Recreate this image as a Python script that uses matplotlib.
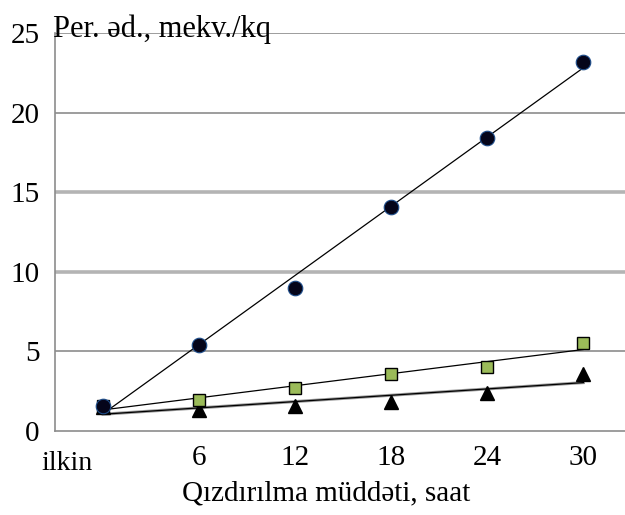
import numpy as np
import matplotlib
matplotlib.use("Agg")
import matplotlib.pyplot as plt

plt.rcParams['font.family'] = ['Liberation Serif', 'DejaVu Serif']

# Heating time (hours); 0 corresponds to the initial sample ("ilkin")
hours = [0, 6, 12, 18, 24, 30]
tick_labels = ["ilkin", "6", "12", "18", "24", "30"]

# Peroxide value, meq/kg
series_circle = [1.6, 5.4, 9.0, 14.1, 18.4, 23.2]
series_square = [1.6, 1.95, 2.7, 3.6, 4.0, 5.5]
series_triangle = [1.5, 1.35, 1.6, 1.85, 2.4, 3.6]

fig = plt.figure(figsize=(6.25, 5.15), dpi=100)
ax = fig.add_axes([0.088, 0.163, 0.912, 0.773])

ax.set_xlim(-3.0, 32.6)
ax.set_ylim(0, 25)

# horizontal grid: thin dark lines and thick light bands
for yv in [5, 20, 25]:
    ax.axhline(yv, color="#8c8c8c", lw=1.2, zorder=1)
for yv in [10, 15]:
    ax.axhline(yv, color="#b4b4b4", lw=2.6, zorder=1)

x = np.array(hours, dtype=float)
xs = np.array([0.0, 30.0])

def trend(y):
    k, b = np.polyfit(x, np.array(y), 1)
    return k * xs + b

ax.plot(xs, trend(series_triangle), color="#9a9a9a", lw=2.2, zorder=2)
ax.plot(xs, trend(series_triangle), color="black", lw=0.9, zorder=3)
ax.plot(xs, trend(series_square), color="black", lw=0.9, zorder=3)
ax.plot(xs, trend(series_circle), color="black", lw=0.9, zorder=3)

ax.plot(hours, series_triangle, ls="none", marker="^", ms=10,
        mfc="black", mec="black", zorder=4)
ax.plot(hours, series_square, ls="none", marker="s", ms=8,
        mfc="#9bbb59", mec="black", mew=1.0, zorder=5)
ax.plot(hours, series_circle, ls="none", marker="o", ms=10.5,
        mfc="#05051a", mec="#1f4e8c", mew=0.8, zorder=6)

for s in ["top", "right"]:
    ax.spines[s].set_visible(False)
ax.spines["left"].set_color("#8c8c8c")
ax.spines["bottom"].set_color("#8c8c8c")
ax.spines["left"].set_linewidth(1.2)
ax.spines["bottom"].set_linewidth(1.2)

ax.set_yticks([0, 5, 10, 15, 20, 25])
ax.set_yticklabels(["0", "5", "10", "15", "20", "25"])
ax.set_xticks(hours[1:])
ax.set_xticklabels(tick_labels[1:])
ax.tick_params(axis="y", length=0, labelsize=21, pad=11)
ax.tick_params(axis="x", length=0, labelsize=21, pad=10)
ax.text(-2.25, -2.05, tick_labels[0], ha="center", va="center", fontsize=20)

ax.set_xlabel("Qızdırılma müddəti, saat", fontsize=21, labelpad=4)
ax.xaxis.set_label_coords(0.475, -0.125)
ax.text(-3.15, 24.75, "Per. əd., mekv./kq", ha="left", va="baseline",
        fontsize=22, zorder=7)

fig.savefig("out.png", dpi=100)
